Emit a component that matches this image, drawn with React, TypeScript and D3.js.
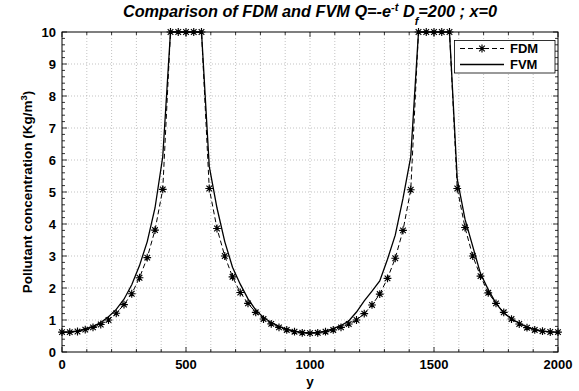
import React from "react";
import * as d3 from "d3";

const W = 579;
const H = 391;

const yGrid: number[] = [
  0, 31.25, 62.5, 93.75, 125, 156.25, 187.5, 218.75, 250, 281.25, 312.5, 343.75, 375, 406.25, 437.5, 468.75,
  500, 531.25, 562.5, 593.75, 625, 656.25, 687.5, 718.75, 750, 781.25, 812.5, 843.75, 875, 906.25, 937.5, 968.75,
  1000, 1031.25, 1062.5, 1093.75, 1125, 1156.25, 1187.5, 1218.75, 1250, 1281.25, 1312.5, 1343.75, 1375, 1406.25,
  1437.5, 1468.75, 1500, 1531.25, 1562.5, 1593.75, 1625, 1656.25, 1687.5, 1718.75, 1750, 1781.25, 1812.5, 1843.75,
  1875, 1906.25, 1937.5, 1968.75, 2000,
];

const fdmValues: number[] = [
  0.62, 0.62, 0.64, 0.7, 0.77, 0.86, 1.0, 1.21, 1.48, 1.82, 2.32, 2.95, 3.81, 5.08, 10, 10,
  10, 10, 10, 5.11, 3.86, 3.0, 2.35, 1.86, 1.52, 1.24, 1.03, 0.88, 0.77, 0.69, 0.635, 0.6,
  0.59, 0.6, 0.635, 0.69, 0.77, 0.875, 1.0, 1.2, 1.47, 1.81, 2.3, 2.93, 3.8, 5.07,
  10, 10, 10, 10, 10, 5.11, 3.89, 3.0, 2.37, 1.85, 1.52, 1.24, 1.03, 0.875,
  0.76, 0.69, 0.65, 0.625, 0.62,
];

const fvmValues: number[] = [
  0.62, 0.63, 0.66, 0.72, 0.8, 0.92, 1.1, 1.33, 1.65, 2.1, 2.7, 3.45, 4.5, 6.1, 10, 10,
  10, 10, 10, 5.8, 4.5, 3.45, 2.65, 2.12, 1.66, 1.31, 1.08, 0.92, 0.8, 0.71, 0.65, 0.61,
  0.6, 0.61, 0.65, 0.73, 0.83, 0.97, 1.25, 1.6, 1.9, 2.22, 2.9, 3.65, 4.8, 6.1,
  10, 10, 10, 10, 10, 5.4, 4.15, 3.3, 2.45, 1.95, 1.52, 1.22, 1.04, 0.9,
  0.78, 0.7, 0.65, 0.63, 0.62,
];

const xTickValues: number[] = [0, 500, 1000, 1500, 2000];
const yTickValues: number[] = [0, 1, 2, 3, 4, 5, 6, 7, 8, 9, 10];
const seriesNames: string[] = ["FDM", "FVM"];

const FONT = "'Liberation Sans', Arial, Helvetica, sans-serif";

const left = 62;
const right = 558;
const top = 32;
const bottom = 352;

function starPath(cx: number, cy: number, r: number): string {
  const d = r * 0.72;
  return (
    `M${cx - r},${cy}L${cx + r},${cy}` +
    `M${cx},${cy - r}L${cx},${cy + r}` +
    `M${cx - d},${cy - d}L${cx + d},${cy + d}` +
    `M${cx - d},${cy + d}L${cx + d},${cy - d}`
  );
}

export default function App() {
  const x = d3.scaleLinear().domain([0, 2000]).range([left, right]);
  const y = d3.scaleLinear().domain([0, 10]).range([bottom, top]);

  const fdm = yGrid.map((g, i) => [g, fdmValues[i]] as [number, number]);
  const fvm = yGrid.map((g, i) => [g, fvmValues[i]] as [number, number]);
  const line = d3
    .line<[number, number]>()
    .x((d) => x(d[0]))
    .y((d) => y(d[1]));

  const xMinor = d3.range(0, 2001, 100);
  const yMinor = d3.range(0, 10.001, 0.2);
  const vGrid = xMinor.filter((v) => v > 0 && v < 2000);
  const hGrid = yTickValues.filter((v) => v > 0 && v < 10);

  const majorLen = 5;
  const minorLen = 3;

  const lx1 = 460;
  const lx2 = 504;
  const ly1 = 48.5;
  const ly2 = 64.5;
  const starR = 3.9;

  return (
    <svg
      width={W}
      height={H}
      viewBox={`0 0 ${W} ${H}`}
      style={{ position: "absolute", left: 0, top: 0, background: "#fff" }}
    >
      <rect x={0} y={0} width={W} height={H} fill="#fff" />
      {/* grid */}
      <g stroke="#b4b4b4" strokeWidth={0.8} strokeDasharray="1,2">
        {vGrid.map((v) => (
          <line key={"vg" + v} x1={x(v)} x2={x(v)} y1={top} y2={bottom} />
        ))}
        {hGrid.map((v) => (
          <line key={"hg" + v} x1={left} x2={right} y1={y(v)} y2={y(v)} />
        ))}
      </g>

      {/* ticks */}
      <g stroke="#000" strokeWidth={0.8}>
        {xMinor.map((v) => {
          const len = v % 500 === 0 ? majorLen : minorLen;
          return (
            <g key={"xt" + v}>
              <line x1={x(v)} x2={x(v)} y1={bottom} y2={bottom - len} />
              <line x1={x(v)} x2={x(v)} y1={top} y2={top + len} />
            </g>
          );
        })}
        {yMinor.map((v, i) => {
          const len = i % 5 === 0 ? majorLen : minorLen;
          return (
            <g key={"yt" + i}>
              <line x1={left} x2={left + len} y1={y(v)} y2={y(v)} />
              <line x1={right} x2={right - len} y1={y(v)} y2={y(v)} />
            </g>
          );
        })}
      </g>

      {/* data */}
      <path d={line(fvm) || ""} fill="none" stroke="#000" strokeWidth={1.3} />
      <path d={line(fdm) || ""} fill="none" stroke="#000" strokeWidth={1} strokeDasharray="5,3" />
      <g stroke="#000" strokeWidth={1.15}>
        {fdm.map((d, i) => (
          <path key={"m" + i} d={starPath(x(d[0]), y(d[1]), starR)} />
        ))}
      </g>

      {/* axes box */}
      <rect x={left} y={top} width={right - left} height={bottom - top} fill="none" stroke="#000" strokeWidth={1} />

      {/* tick labels */}
      <g fontFamily={FONT} fontWeight="bold" fontSize={13} fill="#000">
        {xTickValues.map((v) => (
          <text key={"xl" + v} x={x(v)} y={369} textAnchor="middle">
            {v}
          </text>
        ))}
        {yTickValues.map((v) => (
          <text key={"yl" + v} x={56} y={y(v) + 4.5} textAnchor="end">
            {v}
          </text>
        ))}
      </g>

      {/* axis labels */}
      <text x={(left + right) / 2} y={386} textAnchor="middle" fontFamily={FONT} fontWeight="bold" fontSize={13.5}>
        y
      </text>
      <text
        transform={`translate(32,${(top + bottom) / 2}) rotate(-90)`}
        textAnchor="middle"
        fontFamily={FONT}
        fontWeight="bold"
        fontSize={13.5}
      >
        Pollutant concentration (Kg/m
        <tspan dy={-5} fontSize={9.5}>3</tspan>
        <tspan dy={5}>)</tspan>
      </text>

      {/* title */}
      <text
        x={(left + right) / 2}
        y={17}
        textAnchor="middle"
        fontFamily={FONT}
        fontWeight="bold"
        fontStyle="italic"
        fontSize={16.3}
      >
        Comparison of FDM and FVM Q=-e
        <tspan dy={-6} fontSize={11}>-t</tspan>
        <tspan dy={6}> D</tspan>
        <tspan dy={8} fontSize={11}>f</tspan>
        <tspan dy={-8}>=200 ; x=0</tspan>
      </text>

      {/* legend */}
      <rect x={454.5} y={40.5} width={100.5} height={32.5} fill="#fff" stroke="#000" strokeWidth={0.8} />
      <line x1={lx1} x2={lx2} y1={ly1} y2={ly1} stroke="#000" strokeWidth={1} strokeDasharray="5,3" />
      <path d={starPath((lx1 + lx2) / 2, ly1, starR)} stroke="#000" strokeWidth={1.15} />
      <line x1={lx1} x2={lx2} y1={ly2} y2={ly2} stroke="#000" strokeWidth={1.3} />
      <g fontFamily={FONT} fontWeight="bold" fontSize={13}>
        <text x={510} y={ly1 + 4.6}>{seriesNames[0]}</text>
        <text x={510} y={ly2 + 4.6}>{seriesNames[1]}</text>
      </g>
    </svg>
  );
}
